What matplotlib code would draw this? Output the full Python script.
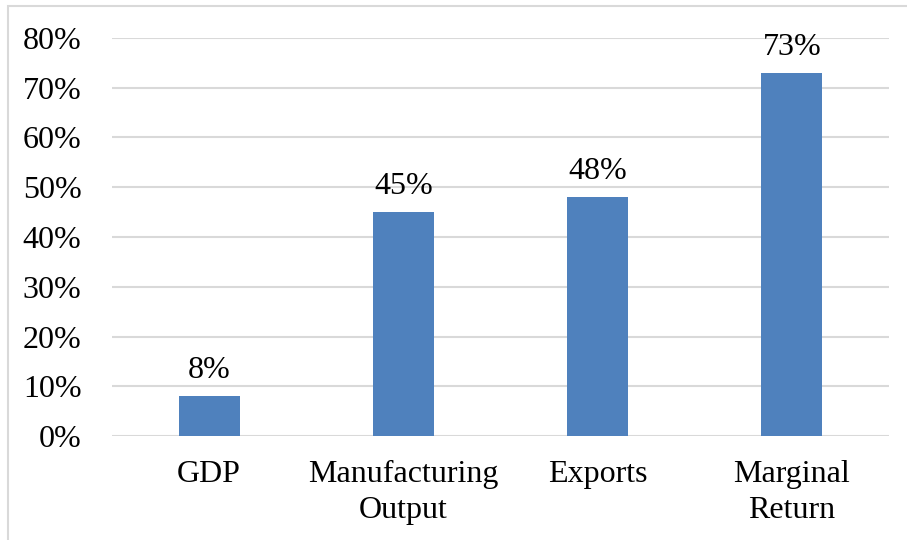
import matplotlib
matplotlib.use("Agg")
import matplotlib.pyplot as plt
from matplotlib.patches import Rectangle
from matplotlib.ticker import FuncFormatter

categories = ["GDP", "Manufacturing\nOutput", "Exports", "Marginal\nReturn"]
values = [8, 45, 48, 73]
y_ticks = [0, 10, 20, 30, 40, 50, 60, 70, 80]

plt.rcParams["font.family"] = ["Liberation Serif", "DejaVu Serif"]

fig = plt.figure(figsize=(9.07, 5.40), dpi=100)
ax = fig.add_axes([112 / 907, 1 - 436 / 540, 777 / 907, 398 / 540])

bar_color = "#4F81BD"
x = range(len(categories))
bars = ax.bar(x, values, width=0.315, color=bar_color, zorder=3)

fs = 23
for xi, v in zip(x, values):
    ax.annotate(f"{v}%", xy=(xi, v), xytext=(0, 8), textcoords="offset points",
                ha="center", va="bottom", fontsize=fs, color="#000000")

ax.set_xlim(-0.5, len(categories) - 0.5)
ax.set_ylim(0, 80)
ax.set_yticks(y_ticks)
ax.yaxis.set_major_formatter(FuncFormatter(lambda v, _: f"{int(v)}%"))
ax.set_xticks(list(x))
ax.set_xticklabels(categories, linespacing=1.35)

ax.grid(axis="y", color="#D9D9D9", linewidth=1.5, zorder=0)
for s in ax.spines.values():
    s.set_visible(False)
ax.tick_params(axis="both", length=0, labelsize=fs, colors="#000000")
ax.tick_params(axis="y", pad=22)
ax.tick_params(axis="x", pad=17)

# outer chart border
fig.patches.append(Rectangle((8 / 907, -0.1), 1.2, 1 - 6 / 540 + 0.1,
                             transform=fig.transFigure, fill=False,
                             edgecolor="#D9D9D9", linewidth=1.5))

fig.savefig("out.png", dpi=100)
